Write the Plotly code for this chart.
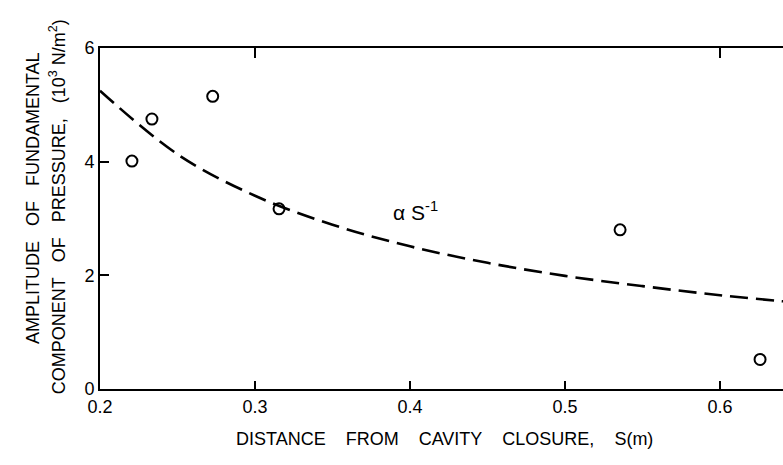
import plotly.graph_objects as go

# Measured amplitude of the fundamental pressure component
distance_m = [0.2206, 0.2335, 0.2727, 0.3155, 0.5355, 0.6258]
amplitude_kpa = [4.01, 4.75, 5.15, 3.17, 2.80, 0.52]

# Dashed S^-1 trend line, sampled along the axis
trend_s = [0.20, 0.25, 0.30, 0.35, 0.40, 0.45, 0.50, 0.55, 0.60, 0.65]
trend_amp = [5.25, 4.13, 3.40, 2.89, 2.51, 2.22, 1.99, 1.81, 1.65, 1.52]

x_ticks = [0.2, 0.3, 0.4, 0.5, 0.6]
x_tick_text = ["0.2", "0.3", "0.4", "0.5", "0.6"]
y_ticks = [0, 2, 4, 6]
top_ticks = [0.3, 0.6]

X_RANGE = [0.2, 0.6406]
Y_RANGE = [0, 6]
FONT = "Liberation Sans, Arial, sans-serif"
NB = "\u00a0"

fig = go.Figure()

fig.add_trace(go.Scatter(
    x=trend_s, y=trend_amp, mode="lines", xaxis="x2", yaxis="y",
    line=dict(color="black", width=2.6, dash="18px,8px", shape="spline"),
    cliponaxis=True, showlegend=False, hoverinfo="skip",
))

fig.add_trace(go.Scatter(
    x=distance_m, y=amplitude_kpa, mode="markers",
    marker=dict(symbol="circle-open", size=11, color="black",
                line=dict(width=2, color="black")),
    showlegend=False,
))

axis_font = dict(family=FONT, size=18, color="black")

fig.update_layout(
    width=783, height=465,
    margin=dict(l=100, r=0, t=48, b=76),
    paper_bgcolor="white", plot_bgcolor="white",
    xaxis=dict(
        range=X_RANGE, tickvals=x_ticks, ticktext=x_tick_text,
        ticks="inside", ticklen=8, tickwidth=2, tickcolor="black",
        showline=True, linecolor="black", linewidth=2, mirror=False,
        showgrid=False, zeroline=False, tickfont=axis_font,
    ),
    xaxis2=dict(
        range=X_RANGE, overlaying="x", side="top", tickvals=top_ticks,
        ticks="inside", ticklen=10, tickwidth=2, tickcolor="black",
        showline=True, linecolor="black", linewidth=2,
        showticklabels=False, showgrid=False, zeroline=False,
    ),
    yaxis=dict(
        range=Y_RANGE, tickvals=y_ticks,
        ticks="inside", ticklen=9, tickwidth=2, tickcolor="black",
        showline=True, linecolor="black", linewidth=2, mirror=False,
        showgrid=False, zeroline=False, tickfont=axis_font,
    ),
    font=dict(family=FONT, color="black"),
)

title_font = dict(family=FONT, size=18, color="black")

fig.add_annotation(
    text=(NB * 4).join(["DISTANCE", "FROM", "CAVITY", "CLOSURE,", "S(m)"]),
    xref="paper", yref="paper", x=0.505, y=-0.148,
    xanchor="center", yanchor="middle", showarrow=False, font=title_font,
)

fig.add_annotation(
    text=(NB * 3).join(["AMPLITUDE", "OF", "FUNDAMENTAL"]),
    xref="paper", yref="paper", x=-0.098, y=0.56, textangle=-90,
    xanchor="center", yanchor="middle", showarrow=False, font=title_font,
)
fig.add_annotation(
    text=(NB * 3).join(["COMPONENT", "OF", "PRESSURE,", "(10<sup>3</sup>" + NB + "N/m<sup>2</sup>)"]),
    xref="paper", yref="paper", x=-0.062, y=0.535, textangle=-90,
    xanchor="center", yanchor="middle", showarrow=False, font=title_font,
)

fig.add_annotation(
    text="α" + NB + "S<sup>-1</sup>",
    x=0.388, y=3.14, xref="x", yref="y",
    xanchor="left", yanchor="middle", showarrow=False,
    font=dict(family=FONT, size=21, color="black"),
)

fig.write_html("out.html")
